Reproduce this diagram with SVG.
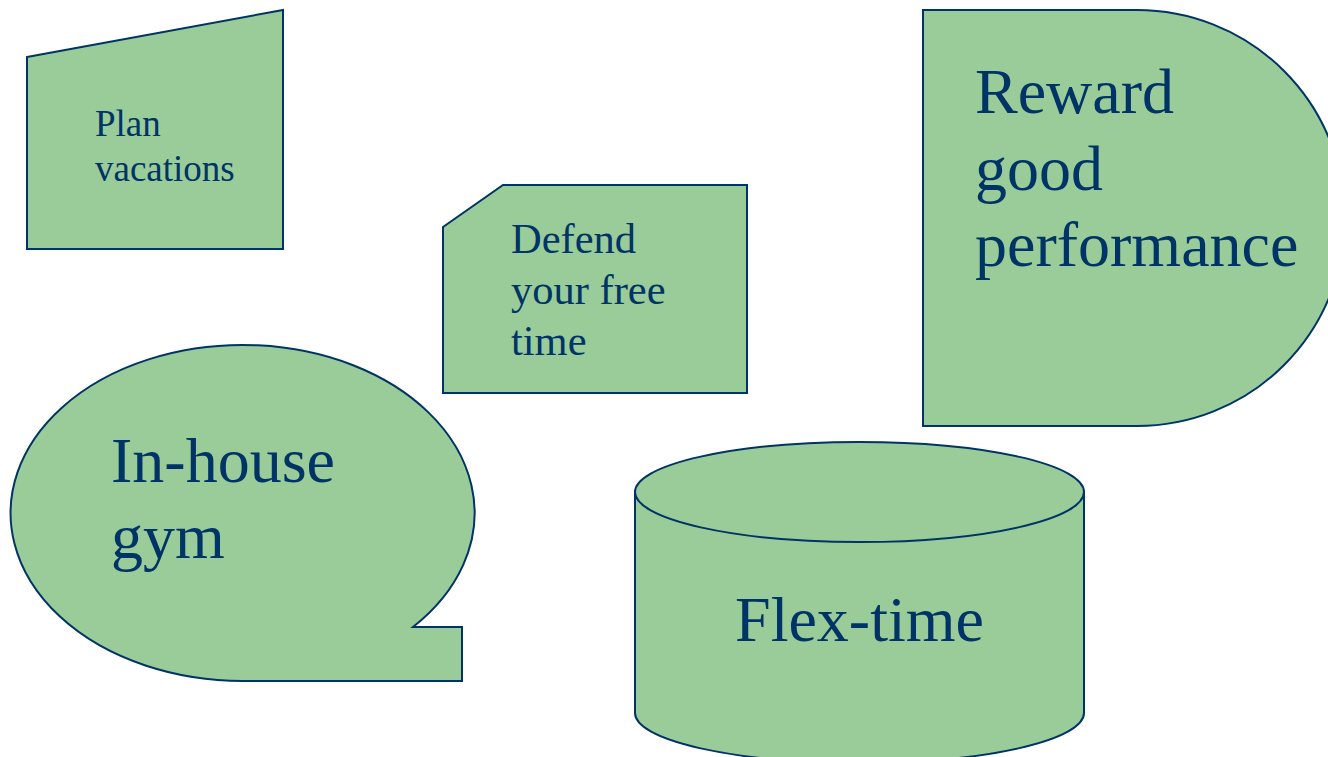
<svg xmlns="http://www.w3.org/2000/svg" width="1328" height="757" viewBox="0 0 1328 757">
<style>
.shape{fill:#99CC99;stroke:#003366;stroke-width:2;stroke-linejoin:miter}
.line{fill:none;stroke:#003366;stroke-width:2}
text{font-family:"Liberation Serif","Times New Roman",serif;fill:#003366}
.s37{font-size:37px}
.s42{font-size:42.5px}
.s64{font-size:64px}
</style>
<rect width="1328" height="757" fill="#FFFFFF"/>
<g id="plan-vacations">
<polygon class="shape" points="27,57 283,10 283,249 27,249"/>
<text class="s37" x="95" y="136">Plan</text>
<text class="s37" x="95" y="181">vacations</text>
</g>
<g id="defend-free-time">
<polygon class="shape" points="443,227 503,185 747,185 747,393 443,393"/>
<text class="s42" x="511" y="253">Defend</text>
<text class="s42" x="511" y="304">your free</text>
<text class="s42" x="511" y="355">time</text>
</g>
<g id="reward-good-performance">
<path class="shape" d="M923,10 L1137,10 A208 208 0 0 1 1137,426 L923,426 Z"/>
<text class="s64" x="975" y="113">Reward</text>
<text class="s64" x="975" y="190">good</text>
<text class="s64" x="975" y="266">performance</text>
</g>
<g id="in-house-gym">
<path class="shape" d="M243,681 A232 168 0 1 1 413,627 L462,627 L462,681 Z"/>
<text class="s64" x="111" y="482">In-house</text>
<text class="s64" x="111" y="558">gym</text>
</g>
<g id="flex-time">
<path class="shape" d="M635,492 L635,713 A224.5 50 0 0 0 1084,713 L1084,492 A224.5 50 0 0 0 635,492 Z"/>
<path class="line" d="M635,492 A224.5 50 0 0 0 1084,492"/>
<text class="s64" x="859.5" y="641" text-anchor="middle">Flex-time</text>
</g>
<g id="connectors"></g>
</svg>
